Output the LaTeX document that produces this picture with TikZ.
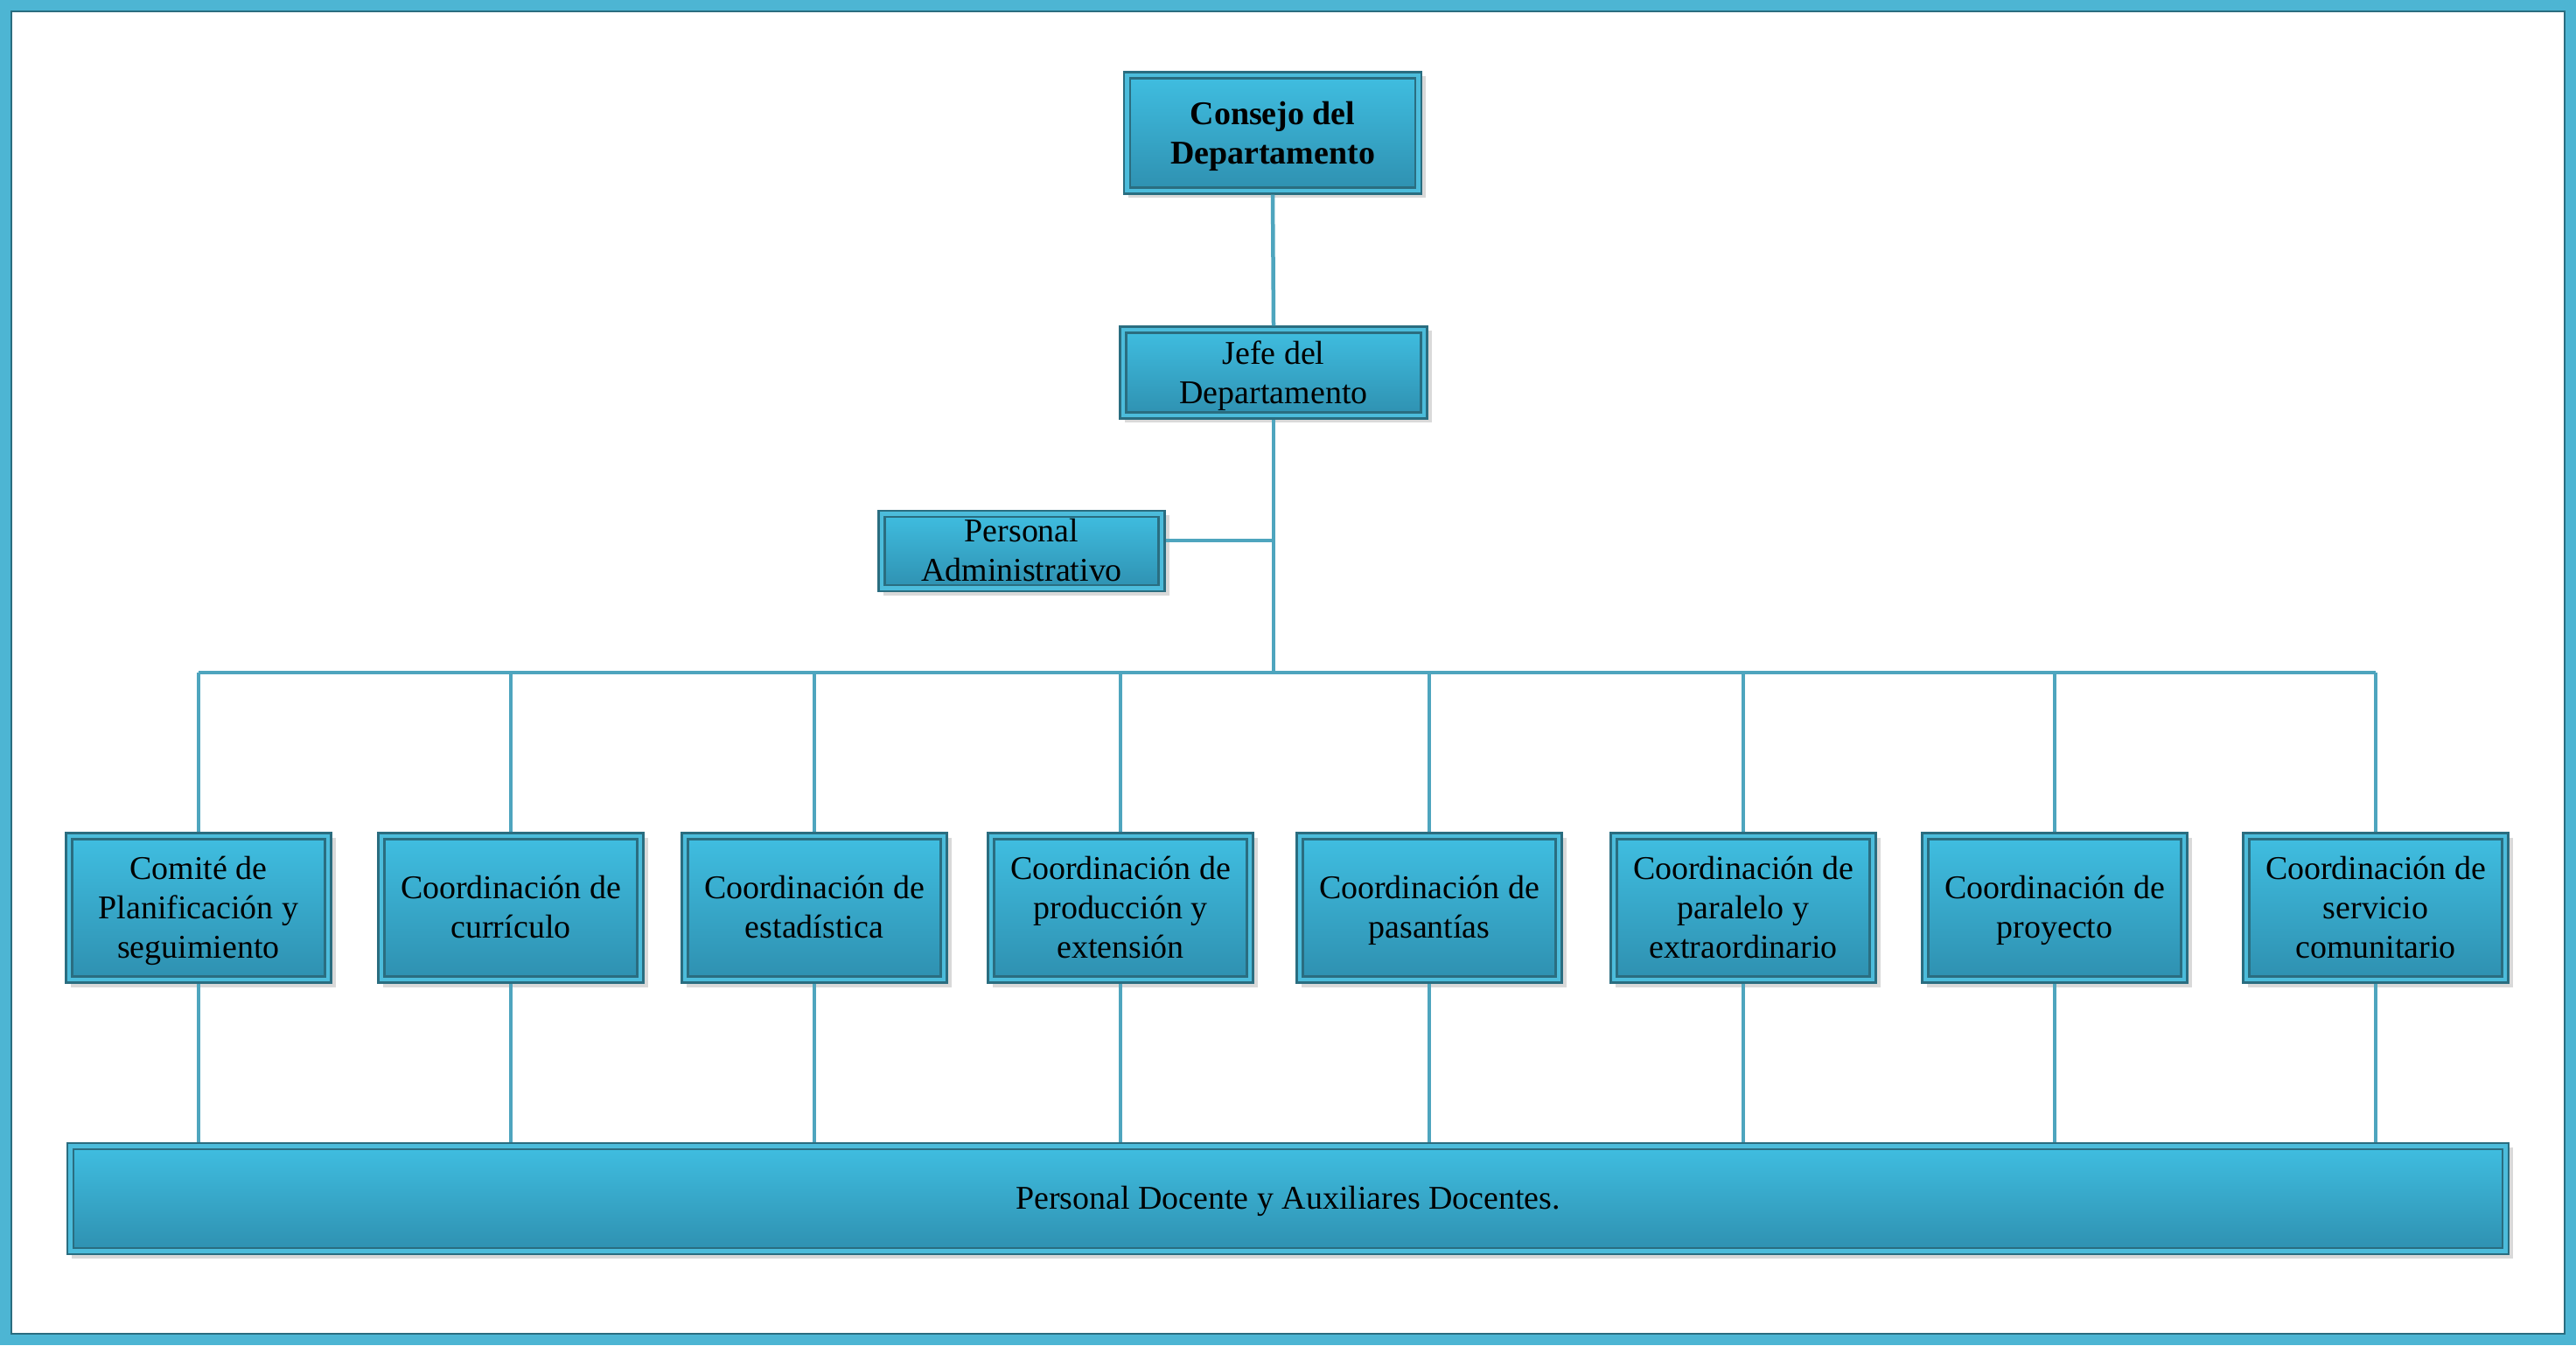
\documentclass[tikz,border=0pt]{standalone}
\usepackage{fontspec}
\setmainfont{Liberation Serif}
\usepackage{tikz}
\usetikzlibrary{shadows}

\definecolor{boxtop}{HTML}{40BFE2}
\definecolor{boxbot}{HTML}{2E8FAF}
\definecolor{boxband}{HTML}{4CBCDB}
\definecolor{boxline}{HTML}{2A6D80}
\definecolor{linkcol}{HTML}{4EA5BE}
\definecolor{framecol}{HTML}{4DB5D3}

\begin{document}
\begin{tikzpicture}[
		orgbox/.style={rectangle, inner sep=0pt, align=center, text depth=0.02cm,
			top color=boxtop, bottom color=boxbot, draw=boxline, line width=0.6pt,
			drop shadow={opacity=0.3, shadow xshift=0.05, shadow yshift=-0.05},
			font=\fontsize{10.8}{12.8}\selectfont,
			path picture={
				\draw[boxband, line width=0.12cm] (path picture bounding box.south west) rectangle (path picture bounding box.north east);
				\draw[boxline, line width=0.7pt] ([shift={(0.07,0.07)}]path picture bounding box.south west) rectangle ([shift={(-0.07,-0.07)}]path picture bounding box.north east);
			}},
		conn/.style={linkcol, line width=0.045cm}
	]
	
	\useasboundingbox (0,0) rectangle (29.45,15.38);
	
	% marco exterior
	\draw[framecol, line width=0.12cm] (0.06,0.06) rectangle (29.39,15.32);
	\draw[boxline, line width=0.5pt] (0.13,0.13) rectangle (29.32,15.25);
	
	% direccion
	\node[orgbox, minimum width=3.40cm, minimum height=1.39cm, text depth=-0.1cm, font=\fontsize{10.8}{12.8}\selectfont\bfseries] (consejo) at (14.55,13.86) {Consejo del\\Departamento};
	\node[orgbox, minimum width=3.51cm, minimum height=1.05cm, text depth=-0.06cm] (jefe) at (14.56,11.12) {Jefe del\\Departamento};
	\node[orgbox, minimum width=3.27cm, minimum height=0.92cm] (admin) at (11.68,9.08) {Personal\\Administrativo};
	
	% coordinaciones
	\node[orgbox, minimum width=3.03cm, minimum height=1.71cm] (c1) at (2.27,5.00) {Comité de\\Planificación y\\seguimiento};
	\node[orgbox, minimum width=3.03cm, minimum height=1.71cm] (c2) at (5.84,5.00) {Coordinación de\\currículo};
	\node[orgbox, minimum width=3.03cm, minimum height=1.71cm] (c3) at (9.31,5.00) {Coordinación de\\estadística};
	\node[orgbox, minimum width=3.03cm, minimum height=1.71cm] (c4) at (12.81,5.00) {Coordinación de\\producción y\\extensión};
	\node[orgbox, minimum width=3.03cm, minimum height=1.71cm] (c5) at (16.34,5.00) {Coordinación de\\pasantías};
	\node[orgbox, minimum width=3.03cm, minimum height=1.71cm] (c6) at (19.93,5.00) {Coordinación de\\paralelo y\\extraordinario};
	\node[orgbox, minimum width=3.03cm, minimum height=1.71cm] (c7) at (23.49,5.00) {Coordinación de\\proyecto};
	\node[orgbox, minimum width=3.03cm, minimum height=1.71cm] (c8) at (27.16,5.00) {Coordinación de\\servicio\\comunitario};
	
	% personal docente
	\node[orgbox, minimum width=27.91cm, minimum height=1.27cm] (docentes) at (14.725,1.675) {Personal Docente y Auxiliares Docentes.};
	
	\coordinate (bus) at (14.55,7.69);
	
	% lineas
	\draw[conn] (consejo.south) -- (jefe.north);
	\draw[conn] (jefe.south) -- (jefe.south |- bus);
	\draw[conn] ([yshift=0.12cm]admin.east) -- ([yshift=0.12cm]admin.east -| jefe.south);
	\draw[conn] (c1.north |- bus) -- (c8.north |- bus);
	
	\draw[conn] (c1.north |- bus) -- (c1.north);
	\draw[conn] (c2.north |- bus) -- (c2.north);
	\draw[conn] (c3.north |- bus) -- (c3.north);
	\draw[conn] (c4.north |- bus) -- (c4.north);
	\draw[conn] (c5.north |- bus) -- (c5.north);
	\draw[conn] (c6.north |- bus) -- (c6.north);
	\draw[conn] (c7.north |- bus) -- (c7.north);
	\draw[conn] (c8.north |- bus) -- (c8.north);
	
	\draw[conn] (c1.south) -- (c1.south |- docentes.north);
	\draw[conn] (c2.south) -- (c2.south |- docentes.north);
	\draw[conn] (c3.south) -- (c3.south |- docentes.north);
	\draw[conn] (c4.south) -- (c4.south |- docentes.north);
	\draw[conn] (c5.south) -- (c5.south |- docentes.north);
	\draw[conn] (c6.south) -- (c6.south |- docentes.north);
	\draw[conn] (c7.south) -- (c7.south |- docentes.north);
	\draw[conn] (c8.south) -- (c8.south |- docentes.north);
	
\end{tikzpicture}
\end{document}
